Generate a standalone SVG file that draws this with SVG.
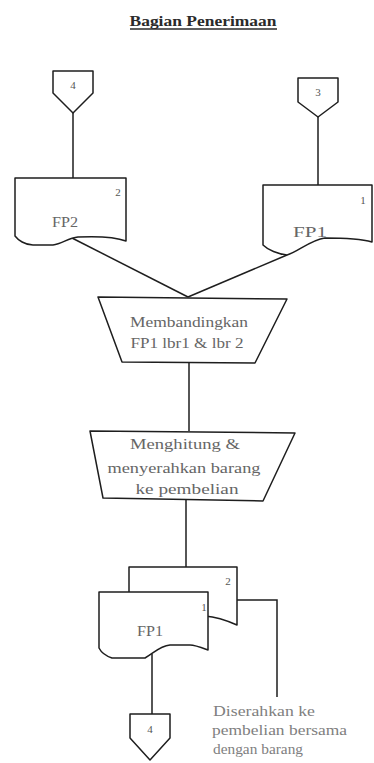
<svg xmlns="http://www.w3.org/2000/svg" width="374" height="763" viewBox="0 0 374 763">
  <style>
    .shape { fill: #ffffff; stroke: #1e1e1e; stroke-width: 1.5; stroke-linejoin: round; }
    .edge { fill: none; stroke: #1e1e1e; stroke-width: 1.5; }
    .label { font-family: "Liberation Serif", "Times New Roman", serif; font-size: 15px; fill: #666666; text-anchor: middle; }
    .small { font-family: "Liberation Serif", "Times New Roman", serif; font-size: 11px; fill: #555555; text-anchor: middle; }
    .note { font-family: "Liberation Serif", "Times New Roman", serif; font-size: 15px; fill: #808080; }
    .title { font-family: "Liberation Serif", "Times New Roman", serif; font-size: 15px; font-weight: bold; fill: #2a2a2a; text-anchor: middle; }
  </style>
  <rect width="374" height="763" fill="#ffffff"/>

  <!-- heading -->
  <g id="title">
    <text class="title" x="203" y="26" textLength="147" lengthAdjust="spacingAndGlyphs">Bagian Penerimaan</text>
    <line x1="130" y1="29" x2="277" y2="29" stroke="#2a2a2a" stroke-width="1.3"/>
  </g>

  <!-- connectors -->
  <g id="connectors">
    <line class="edge" x1="73" y1="113" x2="73" y2="178"/>
    <line class="edge" x1="318" y1="117" x2="318" y2="185"/>
    <line class="edge" x1="72" y1="238" x2="188" y2="297"/>
    <line class="edge" x1="287" y1="255" x2="188" y2="297"/>
    <line class="edge" x1="189" y1="362" x2="189" y2="431"/>
    <line class="edge" x1="186" y1="500" x2="186" y2="567"/>
    <line class="edge" x1="152" y1="654" x2="152" y2="714"/>
    <polyline class="edge" points="237,600 277,600 277,697"/>
  </g>

  <!-- off-page connector 4 (top) -->
  <g id="conn-4-top">
    <path class="shape" d="M53,71 H93 V93 L73,113 L53,93 Z"/>
    <text class="small" x="73" y="89">4</text>
  </g>

  <!-- off-page connector 3 -->
  <g id="conn-3">
    <path class="shape" d="M298,78 H338 V102 L318,117 L298,102 Z"/>
    <text class="small" x="318" y="96">3</text>
  </g>

  <!-- document FP2 -->
  <g id="doc-fp2">
    <path class="shape" d="M15,178 H126 V241 C118,238 100,236 78,237 C68,238 62,244 53,245 H33 C25,245 18,240 15,236 Z"/>
    <text class="small" x="118" y="196">2</text>
    <text class="label" x="65" y="227" textLength="26" lengthAdjust="spacingAndGlyphs">FP2</text>
  </g>

  <!-- document FP1 (right) -->
  <g id="doc-fp1">
    <path class="shape" d="M263,185 H372 V242 C365,240 345,238 325,238 C310,240 298,252 287,255 C278,254 268,250 263,245 Z"/>
    <text class="small" x="363" y="204">1</text>
    <text class="label" x="310" y="237" textLength="34" lengthAdjust="spacingAndGlyphs">FP1</text>
  </g>

  <!-- manual operation: compare -->
  <g id="op-compare">
    <path class="shape" d="M98,297 L287,299 L255,363 L122,362 Z"/>
    <text class="label" x="189" y="327" textLength="118" lengthAdjust="spacingAndGlyphs">Membandingkan</text>
    <text class="label" x="187" y="348" textLength="113" lengthAdjust="spacingAndGlyphs">FP1 lbr1 &amp; lbr 2</text>
  </g>

  <!-- manual operation: count and hand over -->
  <g id="op-handover">
    <path class="shape" d="M90,431 L295,433 L263,501 L103,498 Z"/>
    <text class="label" x="185" y="449" textLength="110" lengthAdjust="spacingAndGlyphs">Menghitung &amp;</text>
    <text class="label" x="184" y="473" textLength="153" lengthAdjust="spacingAndGlyphs">menyerahkan barang</text>
    <text class="label" x="187" y="494" textLength="103" lengthAdjust="spacingAndGlyphs">ke pembelian</text>
  </g>

  <!-- document stack FP1 lbr 1 & 2 -->
  <g id="doc-stack">
    <path class="shape" d="M129,567 H237 V625 C228,621 218,617 205,616 H129 Z"/>
    <text class="small" x="228" y="585">2</text>
    <path class="shape" d="M99,592 H208 V650 C200,647 195,645 190,645 H170 C160,646 155,652 145,658 H112 C106,656 101,652 99,648 Z"/>
    <text class="small" x="204" y="611">1</text>
    <text class="label" x="150" y="636" textLength="26" lengthAdjust="spacingAndGlyphs">FP1</text>
  </g>

  <!-- off-page connector 4 (bottom) -->
  <g id="conn-4-bottom">
    <path class="shape" d="M130,714 H170 V738 L150,760 L130,738 Z"/>
    <text class="small" x="150" y="733">4</text>
  </g>

  <!-- annotation -->
  <g id="note-handover">
    <text class="note" x="213" y="716" textLength="102" lengthAdjust="spacingAndGlyphs">Diserahkan ke</text>
    <text class="note" x="212" y="735" textLength="135" lengthAdjust="spacingAndGlyphs">pembelian bersama</text>
    <text class="note" x="213" y="754" textLength="90" lengthAdjust="spacingAndGlyphs">dengan barang</text>
  </g>
</svg>
